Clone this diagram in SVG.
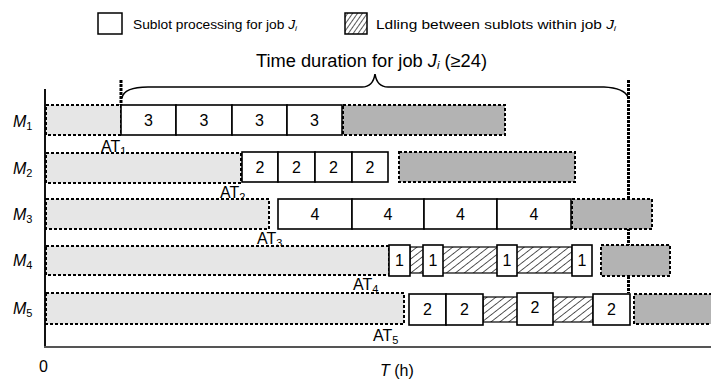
<svg xmlns="http://www.w3.org/2000/svg" width="711" height="388" viewBox="0 0 711 388">
<defs>
<pattern id="hatch" patternUnits="userSpaceOnUse" width="5.5" height="5.5" patternTransform="rotate(52)">
<rect width="5.5" height="5.5" fill="#fff"/>
<line x1="0" y1="0" x2="0" y2="5.5" stroke="#111" stroke-width="1.4"/>
</pattern>
<pattern id="hatch2" patternUnits="userSpaceOnUse" width="4" height="4" patternTransform="rotate(35)">
<rect width="4" height="4" fill="#fff"/>
<line x1="0" y1="0" x2="0" y2="4" stroke="#111" stroke-width="1.4"/>
</pattern>
</defs>
<style>
text{font-family:"Liberation Sans",Arial,sans-serif;fill:#000}
.lab{font-size:16px}
.num{font-size:16px;text-anchor:middle}
.ml{font-size:16px}
.wait{fill:#e6e6e6;stroke:#000;stroke-width:2;stroke-dasharray:3 2}
.idle{fill:#b3b3b3;stroke:#000;stroke-width:2;stroke-dasharray:3 2}
.sub{fill:#fff;stroke:#000;stroke-width:1.6}
.hat{fill:url(#hatch);stroke:#000;stroke-width:1.2}
.mark{stroke:#000;stroke-width:3;stroke-dasharray:3 1;fill:none}
.it{font-style:italic}
.s{font-size:11px}
</style>
<rect width="711" height="388" fill="#fff"/>

<g id="legend">
<rect x="98" y="13" width="24" height="21" fill="#fff" stroke="#000" stroke-width="1.5"/>
<text x="133" y="29" style="font-size:13px" textLength="164" lengthAdjust="spacingAndGlyphs">Sublot processing for job <tspan class="it">J</tspan><tspan class="it" style="font-size:8px" dy="2">i</tspan></text>
<rect x="345" y="13" width="22" height="21" fill="url(#hatch2)" stroke="#000" stroke-width="1.5"/>
<text x="376" y="29" style="font-size:13px" textLength="240" lengthAdjust="spacingAndGlyphs">Ldling between sublots within job <tspan class="it">J</tspan><tspan class="it" style="font-size:8px" dy="2">i</tspan></text>
</g>

<g id="title">
<text x="256" y="67" style="font-size:17.5px" textLength="231" lengthAdjust="spacingAndGlyphs">Time duration for job <tspan class="it">J</tspan><tspan class="it" style="font-size:11px" dy="2">i</tspan><tspan dy="-2"> (≥24)</tspan></text>
</g>

<g id="connectors">
<line x1="45" y1="89" x2="45" y2="348" stroke="#111" stroke-width="2"/>
<line x1="44" y1="347" x2="711" y2="347" stroke="#555" stroke-width="2"/>
<line class="mark" x1="121" y1="80" x2="121" y2="106"/>
<line class="mark" x1="628.5" y1="80" x2="628.5" y2="293"/>
<path d="M122,98 Q124,87 148,87 L362,87 Q373,87 375,74 Q377,87 388,87 L604,87 Q624,88 628,97" fill="none" stroke="#000" stroke-width="1.6"/>
</g>

<g id="axis-labels">
<text x="39" y="372" class="lab">0</text>
<text x="380" y="376" class="lab"><tspan class="it">T</tspan> (h)</text>
<text x="13" y="127" class="ml"><tspan class="it">M</tspan><tspan class="s" dy="3">1</tspan></text>
<text x="13" y="174" class="ml"><tspan class="it">M</tspan><tspan class="s" dy="3">2</tspan></text>
<text x="13" y="220" class="ml"><tspan class="it">M</tspan><tspan class="s" dy="3">3</tspan></text>
<text x="13" y="266" class="ml"><tspan class="it">M</tspan><tspan class="s" dy="3">4</tspan></text>
<text x="13" y="314" class="ml"><tspan class="it">M</tspan><tspan class="s" dy="3">5</tspan></text>
</g>

<g id="row-M1">
<rect class="wait" x="46" y="105" width="75" height="30"/>
<rect class="sub" x="121" y="105" width="55" height="30"/>
<rect class="sub" x="176" y="105" width="56" height="30"/>
<rect class="sub" x="232" y="105" width="55" height="30"/>
<rect class="sub" x="287" y="105" width="55" height="30"/>
<text class="num" x="148.5" y="126">3</text>
<text class="num" x="204" y="126">3</text>
<text class="num" x="259.5" y="126">3</text>
<text class="num" x="314.5" y="126">3</text>
<rect class="idle" x="343" y="105" width="162" height="30"/>
<text x="101" y="152" class="lab">AT<tspan class="s" dy="3">1</tspan></text>
</g>

<g id="row-M2">
<rect class="wait" x="46" y="153" width="195" height="30"/>
<rect class="sub" x="242" y="152" width="36" height="30"/>
<rect class="sub" x="278" y="152" width="37" height="30"/>
<rect class="sub" x="315" y="152" width="37" height="30"/>
<rect class="sub" x="352" y="152" width="36" height="30"/>
<text class="num" x="260" y="173">2</text>
<text class="num" x="296.5" y="173">2</text>
<text class="num" x="333.5" y="173">2</text>
<text class="num" x="370" y="173">2</text>
<rect class="idle" x="399" y="152" width="176" height="30"/>
<text x="220" y="198" class="lab">AT<tspan class="s" dy="3">2</tspan></text>
</g>

<g id="row-M3">
<rect class="wait" x="46" y="199" width="223" height="30"/>
<rect class="sub" x="278" y="199" width="74" height="30"/>
<rect class="sub" x="352" y="199" width="72" height="30"/>
<rect class="sub" x="424" y="199" width="73" height="30"/>
<rect class="sub" x="497" y="199" width="74" height="30"/>
<text class="num" x="315" y="220">4</text>
<text class="num" x="388" y="220">4</text>
<text class="num" x="460.5" y="220">4</text>
<text class="num" x="534" y="220">4</text>
<rect class="idle" x="572" y="199" width="80" height="30"/>
<text x="257" y="244" class="lab">AT<tspan class="s" dy="3">3</tspan></text>
</g>

<g id="row-M4">
<rect class="wait" x="46" y="246" width="343" height="29"/>
<rect class="hat" x="410" y="247" width="162" height="26"/>
<rect class="sub" x="389" y="245" width="21" height="31"/>
<rect class="sub" x="423" y="245" width="20" height="31"/>
<rect class="sub" x="497" y="245" width="20" height="31"/>
<rect class="sub" x="572" y="245" width="20" height="31"/>
<text class="num" x="399.5" y="266">1</text>
<text class="num" x="433" y="266">1</text>
<text class="num" x="507" y="266">1</text>
<text class="num" x="582" y="266">1</text>
<rect class="idle" x="601" y="245" width="69" height="31"/>
<text x="353" y="290" class="lab">AT<tspan class="s" dy="3">4</tspan></text>
</g>

<g id="row-M5">
<rect class="wait" x="46" y="293" width="358" height="31"/>
<rect class="hat" x="483" y="297" width="110" height="25"/>
<rect class="sub" x="409" y="294" width="37" height="31" stroke-width="2"/>
<rect class="sub" x="446" y="294" width="37" height="31"/>
<rect class="sub" x="517" y="293" width="36" height="32"/>
<rect class="sub" x="593" y="294" width="37" height="31"/>
<text class="num" x="427.5" y="315">2</text>
<text class="num" x="464.5" y="315">2</text>
<text class="num" x="535" y="313">2</text>
<text class="num" x="611.5" y="315">2</text>
<rect class="idle" x="634" y="294" width="80" height="30"/>
<text x="373" y="341" class="lab">AT<tspan class="s" dy="3">5</tspan></text>
</g>
</svg>
